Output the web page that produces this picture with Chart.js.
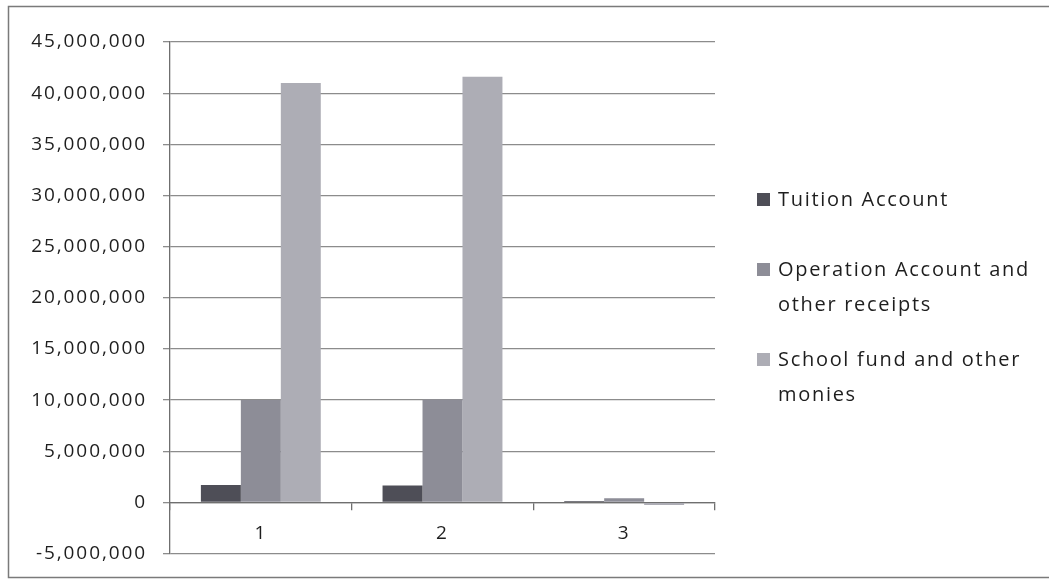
<!DOCTYPE html>
<html>
<head>
<meta charset="utf-8">
<script src="https://cdn.jsdelivr.net/npm/chart.js@4.4.1/dist/chart.umd.min.js"></script>
<style>
  html, body { margin: 0; padding: 0; background: #fff; }
  #wrap { position: relative; width: 1049px; height: 581px; }
  #grafica { position: absolute; left: 0; top: 0; }
  #leyenda { position: absolute; left: 0; top: 0; font-family: 'Open Sans', sans-serif; font-size: 20px; letter-spacing: 1.7px; color: #1e1e1e; }
  .item { position: absolute; left: 757px; width: 290px; line-height: 35px; }
  .muestra { position: absolute; left: 0; width: 13px; height: 13px; }
  .texto { margin-left: 21px; }
</style>
</head>
<body>
<div id="wrap">
  <canvas id="grafica" width="1049" height="581"></canvas>
  <div id="leyenda"></div>
</div>
<script>
// ================= DATOS =================
const categorias = ['1', '2', '3'];
const series = ['Tuition Account', 'Operation Account and other receipts', 'School fund and other monies'];
const tuition   = [1700000, 1650000, 150000];
const operation = [10000000, 10050000, 400000];
const schoolFund = [41000000, 41600000, -250000];
const colores = ['#4e4e57', '#8d8d97', '#adadb5'];

// ================= PLUGINS =================
// marco exterior y fondo blanco
const marco = {
  id: 'marco',
  beforeDraw(chart) {
    const ctx = chart.ctx;
    ctx.save();
    ctx.fillStyle = '#fff';
    ctx.fillRect(0, 0, chart.width, chart.height);
    ctx.strokeStyle = '#7a7a7a';
    ctx.lineWidth = 1.5;
    ctx.strokeRect(8.5, 6.5, chart.width + 20, 571);
    ctx.restore();
  }
};

// texto un poco más ancho
const espaciado = {
  id: 'espaciado',
  beforeUpdate(chart) { chart.ctx.letterSpacing = '1.9px'; },
  beforeDraw(chart) { chart.ctx.letterSpacing = '1.9px'; }
};

// ================= GRÁFICA =================
const valores = [tuition, operation, schoolFund];

new Chart(document.getElementById('grafica'), {
  type: 'bar',
  data: {
    labels: categorias,
    datasets: series.map((s, i) => ({
      label: s,
      data: valores[i],
      backgroundColor: colores[i],
      borderWidth: 0,
      categoryPercentage: 0.66,
      barPercentage: 1.0
    }))
  },
  options: {
    responsive: false,
    animation: false,
    layout: { padding: { left: 27, right: 334, top: 42, bottom: 26 } },
    plugins: { legend: { display: false }, tooltip: { enabled: false } },
    scales: {
      x: {
        position: { y: 0 },
        offset: true,
        grid: { offset: true, drawOnChartArea: false, tickLength: 7, color: '#6f6f6f', lineWidth: 1.3 },
        border: { color: '#6f6f6f', width: 1.3 },
        ticks: { padding: 13, color: '#1e1e1e', font: { family: 'Open Sans', size: 19 } }
      },
      y: {
        min: -5000000,
        max: 45000000,
        afterFit(scale) { scale.width = 143; },
        grid: { color: '#8c8c8c', lineWidth: 1.3, tickLength: 7 },
        border: { color: '#6f6f6f', width: 1.3 },
        ticks: {
          stepSize: 5000000,
          padding: 16,
          color: '#1e1e1e',
          font: { family: 'Open Sans', size: 19 },
          callback: v => v.toLocaleString('en-US')
        }
      }
    }
  },
  plugins: [marco, espaciado]
});

// ================= LEYENDA =================
const posiciones = [181, 251, 341];
const leyenda = document.getElementById('leyenda');
series.forEach((s, i) => {
  const item = document.createElement('div');
  item.className = 'item';
  item.style.top = posiciones[i] + 'px';
  item.innerHTML = `<span class="muestra" style="background:${colores[i]};top:12px"></span><div class="texto">${s}</div>`;
  leyenda.appendChild(item);
});
</script>
</body>
</html>
